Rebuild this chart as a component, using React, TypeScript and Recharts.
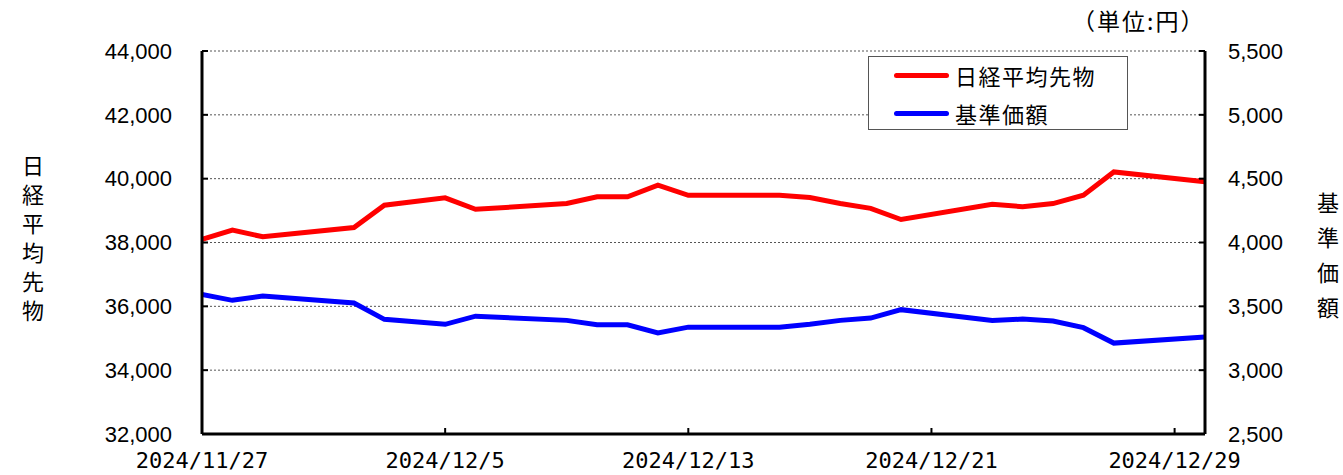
import {
  LineChart,
  Line,
  XAxis,
  YAxis,
  CartesianGrid,
  Legend,
} from "recharts";

const dates = [
  "2024/11/27", "2024/11/28", "2024/11/29", "2024/12/2", "2024/12/3",
  "2024/12/5", "2024/12/6", "2024/12/9", "2024/12/10", "2024/12/11",
  "2024/12/12", "2024/12/13", "2024/12/16", "2024/12/17", "2024/12/18",
  "2024/12/19", "2024/12/20", "2024/12/23", "2024/12/24", "2024/12/25",
  "2024/12/26", "2024/12/27", "2024/12/30",
];
const nikkei = [
  38100, 38390, 38180, 38470, 39170, 39400, 39040, 39220, 39430, 39430,
  39800, 39480, 39480, 39410, 39220, 39070, 38720, 39200, 39120, 39220,
  39480, 40210, 39900,
];
const kijun = [
  3594, 3547, 3581, 3526, 3398, 3359, 3423, 3390, 3356, 3356,
  3291, 3337, 3337, 3359, 3390, 3408, 3474, 3390, 3400, 3385,
  3333, 3212, 3259,
];
const xTickLabels = ["2024/11/27", "2024/12/5", "2024/12/13", "2024/12/21", "2024/12/29"];
const endDate = "2024/12/30";
const leftTicks = [32000, 34000, 36000, 38000, 40000, 42000, 44000];
const rightTicks = [2500, 3000, 3500, 4000, 4500, 5000, 5500];

const toDay = (s: string) => {
  const [y, m, d] = s.split("/").map(Number);
  const base = Date.UTC(2024, 10, 27);
  return Math.round((Date.UTC(y, m - 1, d) - base) / 86400000);
};

const data = dates.map((d, i) => ({
  day: toDay(d),
  nikkei: nikkei[i],
  kijun: kijun[i],
}));

const xTicks = xTickLabels.map(toDay);
const labelOf: Record<number, string> = {};
xTickLabels.forEach((l) => (labelOf[toDay(l)] = l));

const jp = '"Noto Sans CJK JP", sans-serif';
const num = '"Liberation Sans", Arial, sans-serif';

function LegendBox() {
  const items = [
    { name: "日経平均先物", color: "#FF0000" },
    { name: "基準価額", color: "#0000FF" },
  ];
  return (
    <div
      style={{
        border: "1px solid #555",
        background: "#fff",
        width: 258,
        height: 72,
        boxSizing: "content-box",
        fontFamily: jp,
        fontSize: 22,
        color: "#000",
      }}
    >
      {items.map((it, i) => (
        <div
          key={it.name}
          style={{
            position: "absolute",
            left: 26,
            top: 4 + i * 38,
            display: "flex",
            alignItems: "center",
            height: 30,
          }}
        >
          <div style={{ width: 55, height: 5, background: it.color, borderRadius: 3 }} />
          <span style={{ marginLeft: 6, letterSpacing: 1.5 }}>{it.name}</span>
        </div>
      ))}
    </div>
  );
}

export default function App() {
  return (
    <div
      style={{
        position: "absolute",
        left: 0,
        top: 0,
        width: 1343,
        height: 475,
        background: "#fff",
      }}
    >
      <LineChart
        width={1343}
        height={475}
        data={data}
        margin={{ top: 51, right: 0, bottom: 0, left: 0 }}
      >
        <CartesianGrid
          horizontal
          vertical={false}
          stroke="#555"
          strokeDasharray="2 2"
          yAxisId="left"
        />
        <XAxis
          dataKey="day"
          type="number"
          domain={[0, toDay(endDate)]}
          ticks={xTicks}
          tickFormatter={(v: number) => labelOf[v] ?? ""}
          height={41}
          tickSize={-6}
          tickMargin={24}
          axisLine={{ stroke: "#000", strokeWidth: 3 }}
          tickLine={{ stroke: "#000", strokeWidth: 2 }}
          tick={{ fill: "#000", fontSize: 22, fontFamily: '"DejaVu Sans Mono", monospace' }}
          interval={0}
          allowDataOverflow
        />
        <XAxis
          xAxisId="top"
          orientation="top"
          dataKey="day"
          type="number"
          domain={[0, toDay(endDate)]}
          height={0}
          tick={false}
          tickLine={false}
          axisLine={{ stroke: "#000", strokeWidth: 3 }}
        />
        <YAxis
          yAxisId="left"
          width={202}
          domain={[32000, 44000]}
          ticks={leftTicks}
          interval={0}
          tickFormatter={(v: number) => v.toLocaleString("en-US")}
          tickSize={-6}
          tickMargin={36}
          axisLine={{ stroke: "#000", strokeWidth: 3 }}
          tickLine={{ stroke: "#000", strokeWidth: 2 }}
          tick={{ fill: "#000", fontSize: 22, fontFamily: num }}
        />
        <YAxis
          yAxisId="right"
          orientation="right"
          width={138}
          domain={[2500, 5500]}
          ticks={rightTicks}
          interval={0}
          tickFormatter={(v: number) => v.toLocaleString("en-US")}
          tickSize={-6}
          tickMargin={29}
          axisLine={{ stroke: "#000", strokeWidth: 3 }}
          tickLine={{ stroke: "#000", strokeWidth: 2 }}
          tick={{ fill: "#000", fontSize: 22, fontFamily: num }}
        />
        <Legend
          layout="vertical"
          align="center"
          verticalAlign="middle"
          wrapperStyle={{ top: 56, left: 868, width: 260, height: 74 }}
          content={() => <LegendBox />}
        />
        <Line
          yAxisId="left"
          type="linear"
          dataKey="nikkei"
          name="日経平均先物"
          stroke="#FF0000"
          strokeWidth={5}
          dot={false}
          isAnimationActive={false}
        />
        <Line
          yAxisId="right"
          type="linear"
          dataKey="kijun"
          name="基準価額"
          stroke="#0000FF"
          strokeWidth={5}
          dot={false}
          isAnimationActive={false}
        />
      </LineChart>
      <div
        style={{
          position: "absolute",
          left: 1072,
          top: 3,
          fontFamily: jp,
          fontSize: 23,
          letterSpacing: 2,
          color: "#000",
          whiteSpace: "nowrap",
        }}
      >
        （単位:円）
      </div>
      <div
        style={{
          position: "absolute",
          left: 21,
          top: 150,
          width: 24,
          fontFamily: jp,
          fontSize: 22,
          lineHeight: "29px",
          color: "#000",
          textAlign: "center",
        }}
      >
        {"日経平均先物".split("").map((c) => (
          <div key={c}>{c}</div>
        ))}
      </div>
      <div
        style={{
          position: "absolute",
          left: 1316,
          top: 184,
          width: 24,
          fontFamily: jp,
          fontSize: 22,
          lineHeight: "35px",
          color: "#000",
          textAlign: "center",
        }}
      >
        {"基準価額".split("").map((c) => (
          <div key={c}>{c}</div>
        ))}
      </div>
    </div>
  );
}
